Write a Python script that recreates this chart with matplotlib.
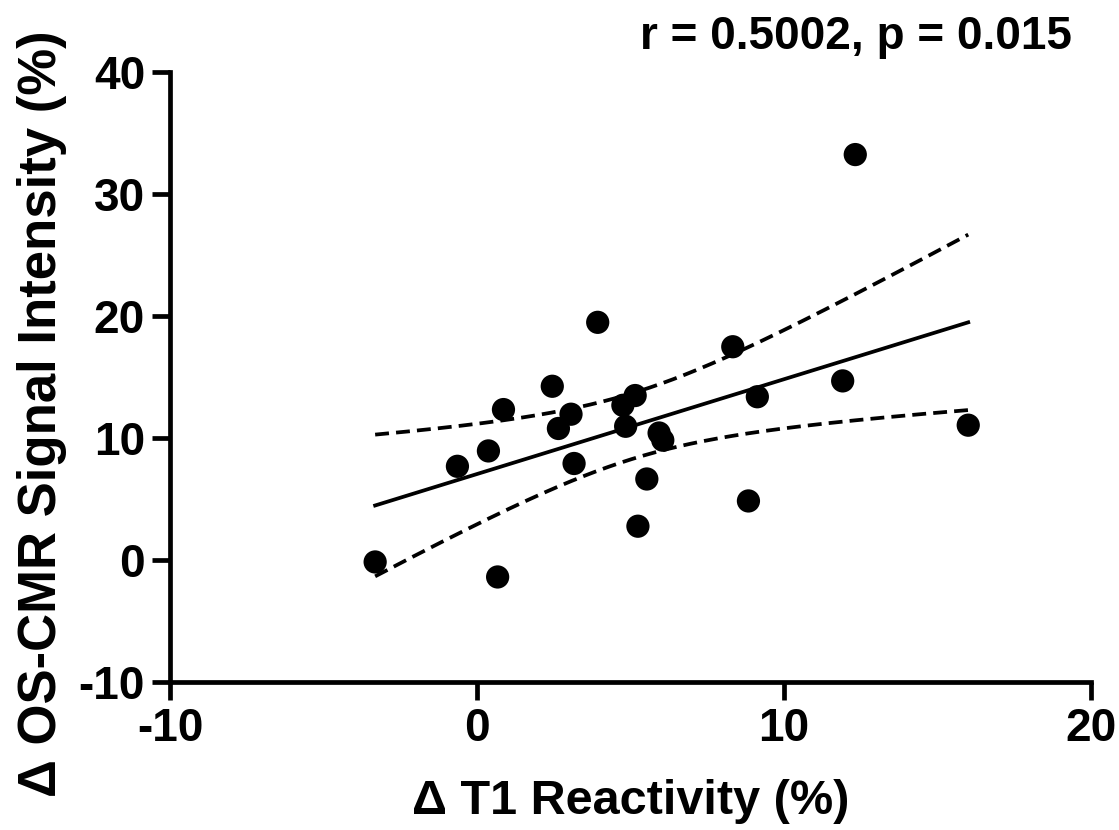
import numpy as np
import matplotlib
matplotlib.use("Agg")
import matplotlib.pyplot as plt

x_t1 = [-3.32, 0.67, -0.64, 0.37, 0.86, 2.45, 3.06, 2.65, 3.16, 3.93, 4.75, 5.15,
        4.84, 5.53, 5.24, 5.93, 6.05, 12.32, 8.33, 9.13, 11.91, 16.0, 8.84]
y_os = [-0.14, -1.37, 7.7, 8.96, 12.35, 14.26, 11.97, 10.8, 7.93, 19.5, 12.7, 13.5,
        10.98, 6.66, 2.79, 10.43, 9.84, 33.25, 17.5, 13.4, 14.7, 11.07, 4.86]
x_ticks = [-10, 0, 10, 20]
y_ticks = [-10, 0, 10, 20, 30, 40]
annot = "r = 0.5002, p = 0.015"
xlabel = "Δ T1 Reactivity (%)"
ylabel = "Δ OS-CMR Signal Intensity (%)"

plt.rcParams['font.family'] = ['Liberation Sans', 'DejaVu Sans']
plt.rcParams['font.weight'] = 'bold'
plt.rcParams['axes.unicode_minus'] = False

x = np.array(x_t1); y = np.array(y_os)
n = len(x)
slope, intercept = np.polyfit(x, y, 1)
xs = np.linspace(x.min(), x.max(), 200)
ys = slope * xs + intercept
resid = y - (slope * x + intercept)
s = np.sqrt(np.sum(resid**2) / (n - 2))
sxx = np.sum((x - x.mean())**2)
tval = 2.080
se = s * np.sqrt(1.0 / n + (xs - x.mean())**2 / sxx)

fig = plt.figure(figsize=(11.19, 8.30), dpi=100)
ax = fig.add_axes([0.152, 0.178, 0.823, 0.735])
ax.scatter(x, y, s=280, color='black', zorder=3, edgecolors='none')
ax.plot(xs, ys, color='black', lw=2.7)
ax.plot(xs, ys + tval * se, color='black', lw=2.7, ls=(0, (3.7, 1.9)))
ax.plot(xs, ys - tval * se, color='black', lw=2.7, ls=(0, (3.7, 1.9)))

ax.set_xlim(-10, 20)
ax.set_ylim(-10, 40)
ax.set_xticks(x_ticks)
ax.set_yticks(y_ticks)
for sp in ['top', 'right']:
    ax.spines[sp].set_visible(False)
for sp in ['left', 'bottom']:
    ax.spines[sp].set_linewidth(3.4)
ax.tick_params(width=3.4, length=13, labelsize=33, pad=5)
for lab in ax.get_xticklabels() + ax.get_yticklabels():
    lab.set_fontweight('bold')
ax.set_xlabel(xlabel, fontsize=35, fontweight='bold', labelpad=20)
ax.set_ylabel(ylabel, fontsize=38, fontweight='bold')
ax.yaxis.set_label_coords(-0.112, 0.44)
fig.text(0.958, 0.955, annot, fontsize=33, fontweight='bold', ha='right', va='center')

fig.savefig("out.png", dpi=100)
